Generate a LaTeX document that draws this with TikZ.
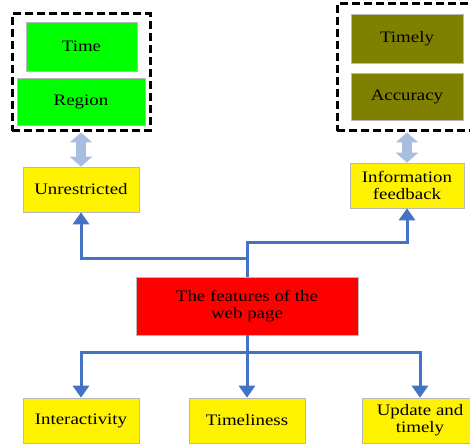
\documentclass[tikz,border=0pt]{standalone}
\usepackage{fontspec}
\setmainfont{Liberation Serif}[FakeStretch=1.18]
\usetikzlibrary{arrows.meta, calc}
\definecolor{linkblue}{RGB}{68,114,196}
\definecolor{pairblue}{RGB}{168,190,222}
\definecolor{olivebox}{RGB}{128,128,0}

\begin{document}
\begin{tikzpicture}[x=1pt, y=1pt]
\tikzstyle{base_box}=[rectangle, draw=gray!55, line width=0.6pt, inner sep=2pt, align=center,
	font=\fontsize{16}{17}\selectfont]
\tikzstyle{yellow_box}=[base_box, fill=yellow, minimum width=116pt, minimum height=45pt]
\tikzstyle{green_box}=[base_box, fill=green]
\tikzstyle{olive_box}=[base_box, fill=olivebox, minimum width=112pt]
\tikzstyle{group_box}=[rectangle, draw=black, line width=3pt, dash pattern=on 8pt off 4pt]
\tikzstyle{link}=[draw=linkblue, line width=3pt, line join=miter, -{Triangle[length=12pt, width=16pt]}]
\tikzstyle{pair_link}=[draw=pairblue, line width=10pt, {Triangle[length=10pt, width=22pt]}-{Triangle[length=10pt, width=22pt]}]
%
\useasboundingbox (0,0) rectangle (470,444);
%
% left group
\node [group_box, minimum width=138pt, minimum height=117pt] (lgroup) at (81,371.5) {};
\node [green_box, minimum width=111pt, minimum height=49pt] (time) at (81.5,397.5) {Time};
\node [green_box, minimum width=128pt, minimum height=47pt] (region) at (81,342.5) {Region};
\node [yellow_box] (unres) at (81,254.5) {Unrestricted};
% right group
\node [group_box, minimum width=140pt, minimum height=127pt] (rgroup) at (407,376.5) {};
\node [olive_box, minimum height=49pt] (timely) at (407,405.5) {Timely};
\node [olive_box, minimum height=47pt] (accur) at (407,347.5) {Accuracy};
\node [yellow_box, minimum width=114pt] (info) at (407,258.5) {Information\\feedback};
% centre
\node [base_box, fill=red, minimum width=222pt, minimum height=58pt] (feat) at (247,138) {The features of the\\web page};
% bottom row
\node [yellow_box] (inter) at (81,23.5) {Interactivity};
\node [yellow_box] (timel) at (247,23.5) {Timeliness};
\node [yellow_box] (upd) at (420,23.5) {Update and\\timely};
%
\draw [pair_link] (lgroup.south) -- (unres.north);
\draw [pair_link] (rgroup.south) -- (info.north);
%
\draw [link] (feat.north) -- ++(0,34) -| (info.south);
\draw [link] (feat.north) -- ++(0,18) -| (unres.south);
\draw [link] (feat.south) -- ++(0,-17) -| (inter.north);
\draw [link] (feat.south) -- ++(0,-17) -| (upd.north);
\draw [link] (feat.south) -- (timel.north);
\end{tikzpicture}
\end{document}
